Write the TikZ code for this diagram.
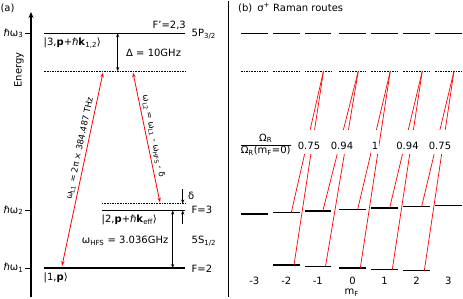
\documentclass[tikz,border=0pt]{standalone}
\usepackage{fontspec}
\setmainfont{DejaVu Sans}
\usetikzlibrary{arrows.meta}
\begin{document}
\begin{tikzpicture}[x=1pt,y=-1pt,
  lvl/.style={line width=1.3pt},
  virt/.style={line width=0.9pt, dash pattern=on 1.6pt off 1pt},
  darr/.style={line width=0.7pt,{Stealth[length=4pt,width=3.2pt]}-{Stealth[length=4pt,width=3.2pt]}},
  sarr/.style={line width=0.7pt,-{Stealth[length=4pt,width=3.2pt]}},
  ramanarr/.style={red,line width=0.8pt,{Stealth[length=5pt,width=3.4pt]}-{Stealth[length=5pt,width=3.4pt]}},
  raman/.style={red,line width=0.7pt},
  txt/.style={inner sep=0pt},
  small/.style={font=\fontsize{8.5}{10}\selectfont,text=black},
  ratio/.style={fill=white,inner sep=0.6pt,text height=19pt,text depth=4pt,anchor=base}
]
\useasboundingbox (0,0) rectangle (463,299);

% ---------------- panel (a) ----------------
\node[txt] (la) at (7.5,8) {(a)};
\coordinate (axB) at (31,297);
\coordinate (axT) at (31,12);
\draw[line width=1.2pt,-{Stealth[length=6pt,width=5pt]}] (axB) -- (axT);
\node[txt,rotate=90] (energy) at (19,70) {Energy};
\coordinate (sepT) at (228,1);
\coordinate (sepB) at (228,297);
\draw[line width=0.8pt] (sepT) -- (sepB);

% ticks and energy labels
\foreach \yy/\k in {33.3/3,210.5/2,268/1} {
  \draw[line width=1pt] (25,\yy) -- (31,\yy);
  \node[txt,anchor=mid east] (hw\k) at (23.5,\yy) {ℏω\textsubscript{\k}};
}

% levels
\coordinate (P3L) at (44.3,33.3);  \coordinate (P3R) at (185,33.3);
\coordinate (VL)  at (44.3,71);    \coordinate (VR)  at (185,71);
\coordinate (F3L) at (101.7,210.5); \coordinate (F3R) at (185,210.5);
\coordinate (V3L) at (101.7,203.5); \coordinate (V3R) at (185,203.5);
\coordinate (F2L) at (44.3,268);   \coordinate (F2R) at (185,268);
\draw[lvl] (P3L) -- (P3R);
\draw[virt] (VL) -- (VR);
\draw[lvl] (F3L) -- (F3R);
\draw[virt] (V3L) -- (V3R);
\draw[lvl] (F2L) -- (F2R);

% level labels
\node[txt,anchor=base east] (Fp) at (186,28.5) {F'=2,3};
\node[txt,anchor=base west] (P32) at (191.5,36.5) {5P\textsubscript{3/2}};
\node[txt,anchor=base west] (k3) at (43.5,45.5) {|3,\textbf{p}+ℏ\textbf{k}\textsubscript{1,2}⟩};
\node[txt,anchor=base west] (k2) at (101.5,222.5) {|2,\textbf{p}+ℏ\textbf{k}\textsubscript{eff}⟩};
\node[txt,anchor=base west] (k1) at (43.5,280) {|1,\textbf{p}⟩};
\node[txt,anchor=base west] (F3) at (191.5,214) {F=3};
\node[txt,anchor=base west] (S12) at (191.5,243.5) {5S\textsubscript{1/2}};
\node[txt,anchor=base west] (F2) at (191.5,272) {F=2};

% Delta arrow
\coordinate (dT) at (117.7,33.3); \coordinate (dB) at (117.7,71);
\draw[darr] (dT) -- (dB);
\node[txt,anchor=base west] (Dl) at (126,56.7) {Δ = 10GHz};

% HFS arrow
\coordinate (hT) at (172.7,210.5); \coordinate (hB) at (172.7,268);
\draw[darr] (hT) -- (hB);
\node[txt,anchor=base east] (hfs) at (168.5,243.5) {ω\textsubscript{HFS} = 3.036GHz};

% delta arrows
\coordinate (e1) at (182.7,189); \coordinate (e2) at (182.7,224.5);
\draw[sarr] (e1) -- (V3R -| e1);
\draw[sarr] (e2) -- (F3R -| e2);
\node[txt,anchor=base west] (dl) at (188,200) {δ};

% laser arrows
\coordinate (r1b) at (62,266);  \coordinate (r1t) at (103,72.5);
\coordinate (r2t) at (133,72.5); \coordinate (r2b) at (160,202.5);
\draw[ramanarr] (r1b) -- (r1t)
  node[pos=0.6,sloped,above=2.5pt,small,inner sep=0pt] (L1) {ω\textsubscript{L1} = 2π × 384.487 THz};
\draw[ramanarr] (r2t) -- (r2b)
  node[pos=0.5,sloped,above=2.5pt,small,inner sep=0pt] (L2) {ω\textsubscript{L2} = ω\textsubscript{L1} - ω\textsubscript{HFS} - δ};

% ---------------- panel (b) ----------------
\node[txt,anchor=base west] (lb) at (238,11.5) {(b)\enspace σ\textsuperscript{+} Raman routes};

\foreach \i/\s in {0/241,1/273,2/304.5,3/339.3,4/371.3,5/403.3,6/435} {
  \pgfmathsetmacro\ya{213.95-1.45*\i}
  \pgfmathsetmacro\yb{263.7+1.4*\i}
  \coordinate (U\i) at (\s,33.5);
  \coordinate (D\i) at (\s+19,71);
  \coordinate (T\i) at (\s+18.3,\ya);
  \coordinate (G\i) at (\s+21,\yb);
  \draw[lvl] (\s,33.5) -- ++(26.7,0);
  \draw[virt] (\s,71) -- ++(26.7,0);
  \draw[lvl] (\s,\ya) -- ++(26.7,0);
  \pgfmathtruncatemacro\mm{\i-3}
  \node[txt] (m\i) at (\s+13.3,281) {\ifnum\mm<0 -\the\numexpr-\mm\relax\else\mm\fi};
}
\foreach \i/\s in {1/273,2/304.5,3/339.3,4/371.3,5/403.3} {
  \pgfmathsetmacro\yb{263.7+1.4*\i}
  \draw[lvl] (\s,\yb) -- ++(26.7,0);
}
\foreach \i [evaluate=\i as \j using int(\i+1)] in {1,...,5} {
  \draw[raman] (T\i) -- (D\j);
  \draw[raman] (G\i) -- (D\j);
}
\node[ratio] (q1) at (309,149.3) {0.75};
\node[ratio] (q2) at (342,149.3) {0.94};
\node[ratio] (q3) at (375,149.3) {1};
\node[ratio] (q4) at (407.5,149.3) {0.94};
\node[ratio] (q5) at (440,149.3) {0.75};
\node[inner sep=0pt,anchor=base] (frac) at (265.7,153.5)
  {\begin{tabular}[b]{@{}c@{}}Ω\textsubscript{R}\\\hline Ω\textsubscript{R}(m\textsubscript{F}=0)\end{tabular}};
\node[txt] (mF) at (351.7,293) {m\textsubscript{F}};
\end{tikzpicture}
\end{document}
